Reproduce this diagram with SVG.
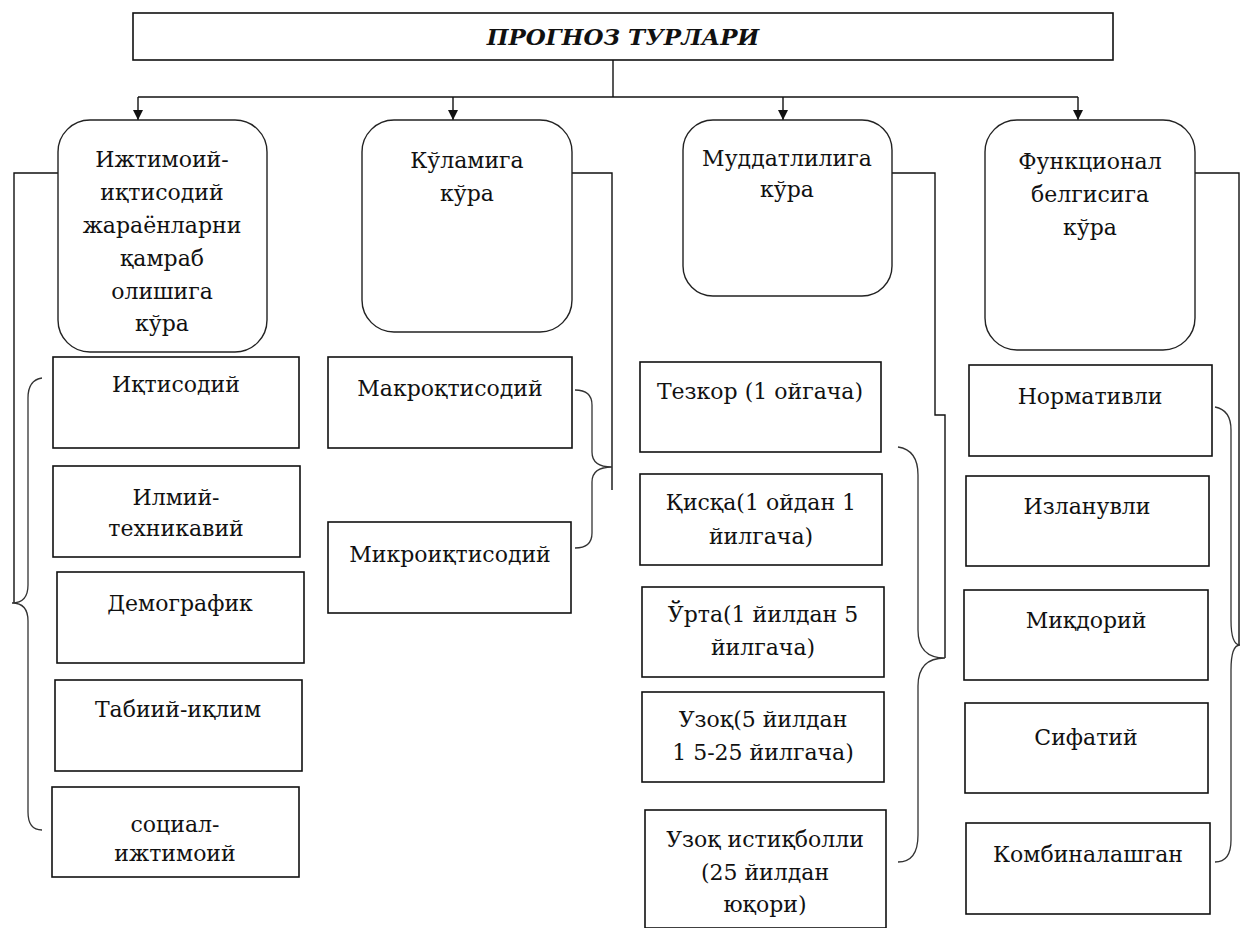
<svg xmlns="http://www.w3.org/2000/svg" width="1242" height="928" viewBox="0 0 1242 928">
<style>
text{font-family:'DejaVu Serif',serif;font-size:22px;fill:#111;text-anchor:middle}
.t{font-weight:bold;font-style:italic;font-size:23px}
.box{fill:#fff;stroke:#111;stroke-width:1.6}
.rbox{fill:#fff;stroke:#222;stroke-width:1.4}
.ln{fill:none;stroke:#111;stroke-width:1.4}
.br{fill:none;stroke:#333;stroke-width:1.3}
</style>
<defs>
<marker id="ah" viewBox="0 0 10 10" refX="10" refY="5" markerWidth="10" markerHeight="10" markerUnits="userSpaceOnUse" orient="auto">
<path d="M0,0 L10,5 L0,10 Z" fill="#111"/>
</marker>
</defs>
<rect width="1242" height="928" fill="#fff"/>
<g id="connectors">
<path class="ln" d="M613,60 V97"/>
<path class="ln" d="M138,97 H1078"/>
<path class="ln" d="M138,97 V120" marker-end="url(#ah)"/>
<path class="ln" d="M453,97 V120" marker-end="url(#ah)"/>
<path class="ln" d="M783,97 V120" marker-end="url(#ah)"/>
<path class="ln" d="M1078,97 V120" marker-end="url(#ah)"/>
<path class="ln" d="M58,173 H14 V603"/>
<path class="ln" d="M572,173 H612 V490"/>
<path class="ln" d="M892,173 H935 V415 H945 V658"/>
<path class="ln" d="M1195,173 H1239 V645"/>
<path class="br" d="M42,378 Q28,380 28,398 L28,585 Q28,603 12,603 Q28,603 28,621 L28,812 Q28,830 42,830"/>
<path class="br" d="M575,390 Q592,390 592,405 L592,452 Q592,467 612,467 Q592,467 592,482 L592,533 Q592,548 575,548"/>
<path class="br" d="M898,447 Q918,450 918,475 L918,630 Q918,658 945,658 Q918,658 918,686 L918,835 Q918,862 898,862"/>
<path class="br" d="M1215,407 Q1231,410 1231,430 L1231,620 Q1231,645 1240,645 Q1231,645 1231,670 L1231,840 Q1231,862 1215,862"/>
</g>
<g id="title">
<rect class="box" x="133" y="13" width="980" height="47"/>
<text class="t" x="623" y="45">ПРОГНОЗ ТУРЛАРИ</text>
</g>
<g id="cat1">
<rect class="rbox" x="58" y="120" width="209" height="232" rx="32"/>
<text x="162" y="167">Ижтимоий-</text>
<text x="162" y="200">иқтисодий</text>
<text x="162" y="233">жараёнларни</text>
<text x="162" y="266">қамраб</text>
<text x="162" y="299">олишига</text>
<text x="162" y="331">кўра</text>
</g>
<g id="cat2">
<rect class="rbox" x="362" y="120" width="210" height="212" rx="32"/>
<text x="467" y="168">Кўламига</text>
<text x="467" y="201">кўра</text>
</g>
<g id="cat3">
<rect class="rbox" x="683" y="120" width="209" height="176" rx="30"/>
<text x="787" y="166">Муддатлилига</text>
<text x="787" y="197">кўра</text>
</g>
<g id="cat4">
<rect class="rbox" x="985" y="120" width="210" height="230" rx="32"/>
<text x="1090" y="169">Функционал</text>
<text x="1090" y="202">белгисига</text>
<text x="1090" y="235">кўра</text>
</g>
<g id="c1a"><rect class="box" x="53" y="357" width="246" height="91"/><text x="176" y="392">Иқтисодий</text></g>
<g id="c1b"><rect class="box" x="53" y="466" width="247" height="91"/><text x="176" y="505">Илмий-</text><text x="176" y="536">техникавий</text></g>
<g id="c1c"><rect class="box" x="57" y="572" width="247" height="91"/><text x="180" y="611">Демографик</text></g>
<g id="c1d"><rect class="box" x="55" y="680" width="247" height="91"/><text x="178" y="717">Табиий-иқлим</text></g>
<g id="c1e"><rect class="box" x="52" y="787" width="247" height="90"/><text x="175" y="832">социал-</text><text x="175" y="861">ижтимоий</text></g>
<g id="c2a"><rect class="box" x="328" y="357" width="244" height="91"/><text x="450" y="396">Макроқтисодий</text></g>
<g id="c2b"><rect class="box" x="328" y="522" width="243" height="91"/><text x="450" y="562">Микроиқтисодий</text></g>
<g id="c3a"><rect class="box" x="640" y="362" width="241" height="90"/><text x="760" y="399">Тезкор (1 ойгача)</text></g>
<g id="c3b"><rect class="box" x="640" y="474" width="242" height="91"/><text x="761" y="510">Қисқа(1 ойдан 1</text><text x="761" y="544">йилгача)</text></g>
<g id="c3c"><rect class="box" x="642" y="587" width="242" height="90"/><text x="763" y="622">Ўрта(1 йилдан 5</text><text x="763" y="655">йилгача)</text></g>
<g id="c3d"><rect class="box" x="642" y="692" width="242" height="90"/><text x="763" y="727">Узоқ(5 йилдан</text><text x="763" y="760">1 5-25 йилгача)</text></g>
<g id="c3e"><rect class="box" x="645" y="810" width="241" height="118"/><text x="765" y="847">Узоқ истиқболли</text><text x="765" y="880">(25 йилдан</text><text x="765" y="912">юқори)</text></g>
<g id="c4a"><rect class="box" x="969" y="365" width="243" height="91"/><text x="1090" y="404">Нормативли</text></g>
<g id="c4b"><rect class="box" x="966" y="476" width="243" height="90"/><text x="1087" y="514">Изланувли</text></g>
<g id="c4c"><rect class="box" x="964" y="590" width="244" height="90"/><text x="1086" y="628">Миқдорий</text></g>
<g id="c4d"><rect class="box" x="965" y="703" width="243" height="90"/><text x="1086" y="745">Сифатий</text></g>
<g id="c4e"><rect class="box" x="966" y="823" width="244" height="91"/><text x="1088" y="862">Комбиналашган</text></g>
</svg>
